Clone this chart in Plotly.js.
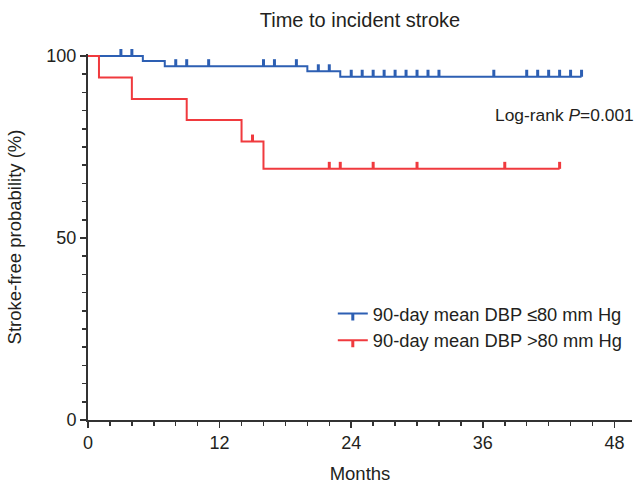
<!DOCTYPE html>
<html><head><meta charset="utf-8">
<script src="https://cdn.plot.ly/plotly-3.0.1.min.js"></script>
<style>html,body{margin:0;padding:0;background:#fff}#chart{width:635px;height:486px}</style>
</head><body><div id="chart"></div>
<script>
// Kaplan-Meier step data (months, % stroke-free)
const lowTimes  = [0, 5, 7, 20, 23, 45];
const lowSurv   = [100, 98.6, 97.2, 95.8, 94.3, 94.3];
const lowCensor = [3,4,8,9,11,16,17,19,21,22,24,25,26,27,28,29,30,31,32,37,40,41,42,43,44,45];
const highTimes  = [0, 1, 4, 9, 14, 16, 43];
const highSurv   = [100, 94.1, 88.2, 82.4, 76.5, 69.0, 69.0];
const highCensor = [15,22,23,26,30,38,43];
const seriesNames = ['90-day mean DBP \u226480 mm Hg', '90-day mean DBP >80 mm Hg'];
const xTicks = [0, 12, 24, 36, 48];
const yTicks = [0, 50, 100];

const BLUE = '#2d5fb3', RED = '#f03a3e', TXT = '#231f20', AX = '#333333';
const FONT = 'Liberation Sans, Arial, sans-serif';

function survAt(times, surv, t) {
  let s = surv[0];
  for (let i = 0; i < times.length; i++) if (times[i] <= t) s = surv[i];
  return s;
}
const tickMarker = c => ({symbol: 'line-ns', size: 5, angle: 180, standoff: 3.5, color: c, line: {color: c, width: 3}});

function group(times, surv, cens, color, name, g) {
  return [
    {x: times, y: surv, type: 'scatter', mode: 'lines', line: {shape: 'hv', color: color, width: 2},
     showlegend: false, hoverinfo: 'skip', legendgroup: g},
    {x: cens, y: cens.map(t => survAt(times, surv, t)), type: 'scatter', mode: 'markers', cliponaxis: false,
     marker: tickMarker(color), showlegend: false, legendgroup: g},
    {x: [null], y: [null], type: 'scatter', mode: 'lines+markers', name: name, legendgroup: g,
     line: {color: color, width: 2}, marker: tickMarker(color)}
  ];
}

const data = [].concat(
  group(lowTimes, lowSurv, lowCensor, BLUE, seriesNames[0], 'a'),
  group(highTimes, highSurv, highCensor, RED, seriesNames[1], 'b')
);

const layout = {
  width: 635, height: 486,
  margin: {l: 88, r: 3, t: 54, b: 66},
  paper_bgcolor: '#fff', plot_bgcolor: '#fff',
  font: {family: FONT, size: 18, color: TXT},
  title: {text: 'Time to incident stroke', font: {size: 20, color: TXT}, x: 0.5, xref: 'paper',
          y: 1 - 20/486, yanchor: 'middle'},
  xaxis: {range: [0, 49.6], tickvals: xTicks, ticktext: xTicks.map(String), ticks: 'outside', ticklen: 6,
          tickwidth: 1.5, tickcolor: AX, showline: true, linecolor: AX, linewidth: 1.5,
          showgrid: false, zeroline: false, tickfont: {size: 18},
          minor: {tickmode: 'linear', tick0: 0, dtick: 2, ticks: 'outside', ticklen: 4, tickwidth: 1.5, tickcolor: AX},
          title: {text: 'Months', font: {size: 18.5}, standoff: 15}},
  yaxis: {range: [0, 100.55], tickvals: yTicks, ticktext: yTicks.map(String), ticks: 'outside', ticklen: 6,
          tickwidth: 1.5, tickcolor: AX, showline: true, linecolor: AX, linewidth: 2,
          showgrid: false, zeroline: false, tickfont: {size: 18},
          minor: {tickmode: 'linear', tick0: 0, dtick: 5, ticks: 'outside', ticklen: 4, tickwidth: 1.5, tickcolor: AX},
          title: {text: 'Stroke-free probability (%)', font: {size: 18.5}, standoff: 20}},
  legend: {x: 0.45, xanchor: 'left', y: 0.254, yanchor: 'middle', bgcolor: 'rgba(0,0,0,0)',
           font: {size: 18.3, color: TXT}, itemwidth: 30, tracegroupgap: 0, traceorder: 'grouped'},
  annotations: [{xref: 'paper', x: 1.0, xanchor: 'right', xshift: 4, yref: 'y', y: 83.8, yanchor: 'middle',
                 text: 'Log-rank <i>P</i>=0.001', showarrow: false, font: {size: 17.4, color: TXT}}],
  showlegend: true
};

Plotly.newPlot('chart', data, layout, {displayModeBar: false, staticPlot: true});
</script>
</body></html>
